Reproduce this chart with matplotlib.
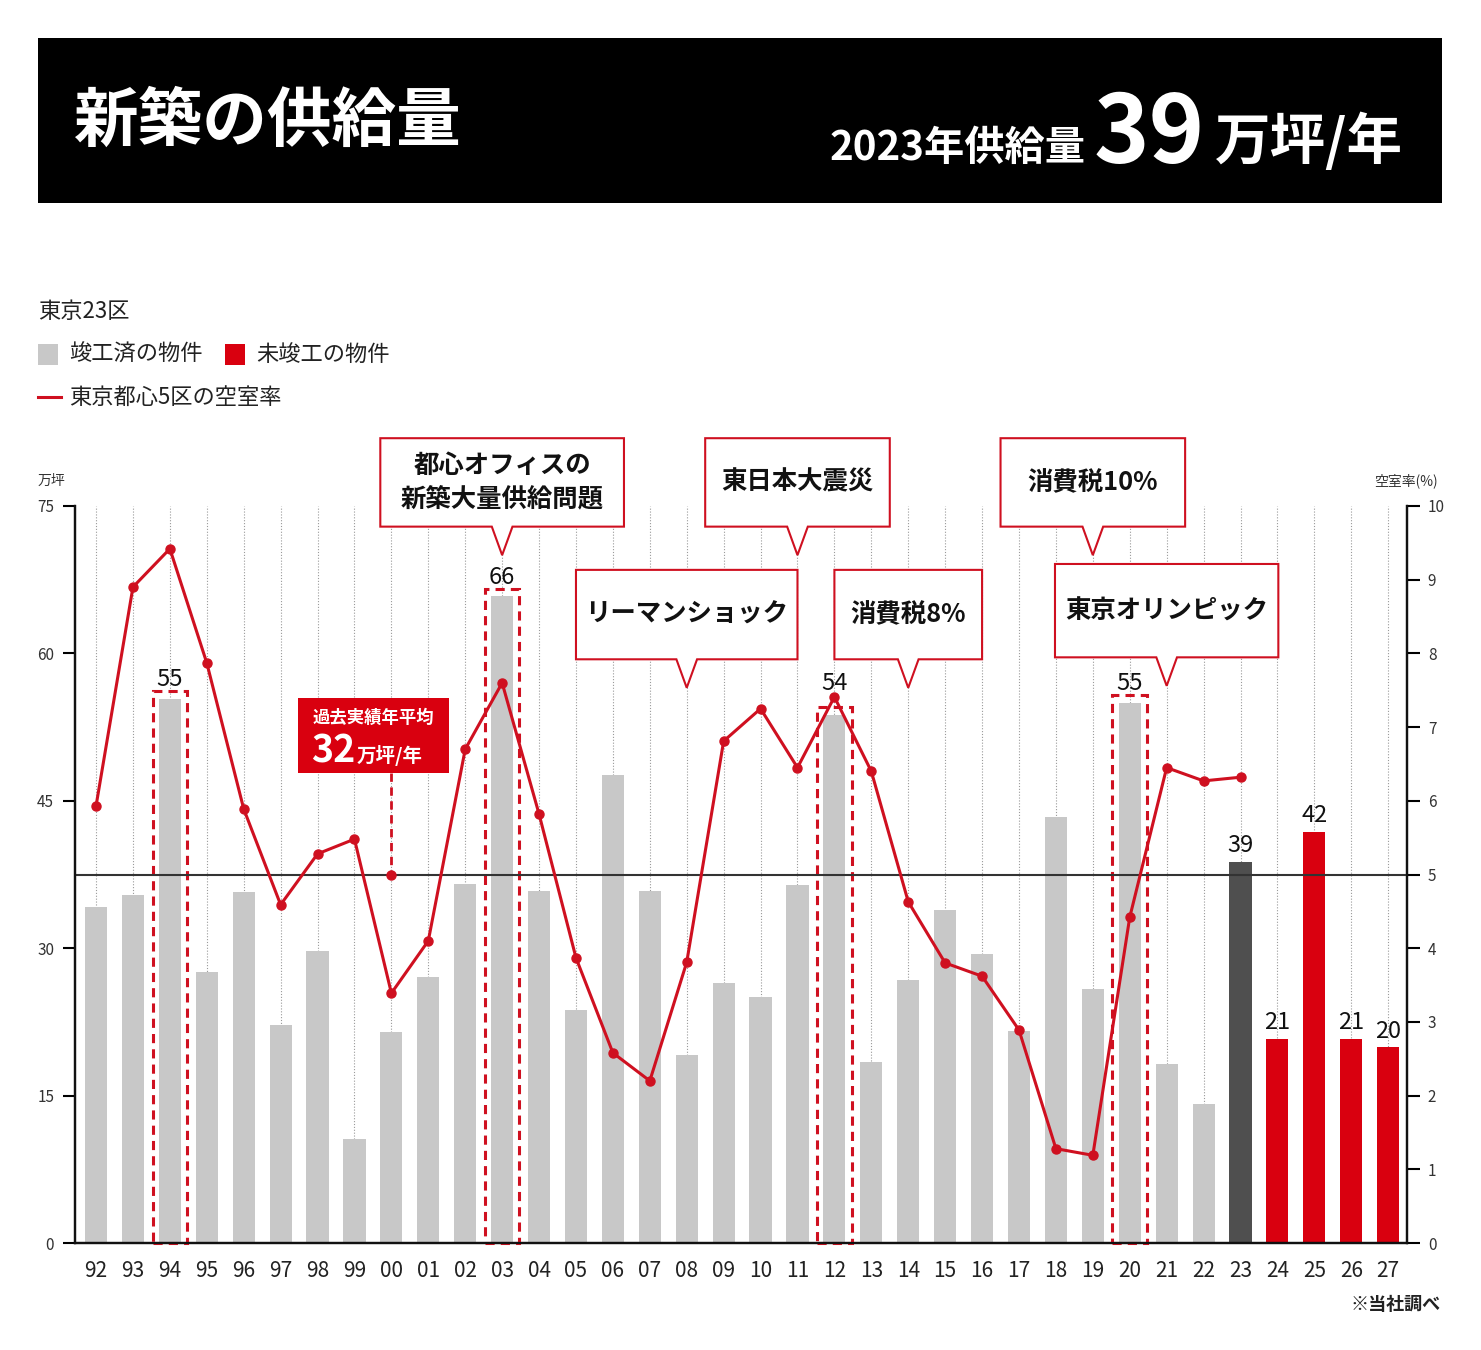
import numpy as np
import matplotlib
matplotlib.use('Agg')
import matplotlib.pyplot as plt
from matplotlib.patches import Rectangle, Polygon
from matplotlib.lines import Line2D

plt.rcParams['font.family'] = ['Noto Sans CJK JP', 'DejaVu Sans']

# ---------------- data ----------------
years = ['92', '93', '94', '95', '96', '97', '98', '99', '00', '01', '02', '03',
         '04', '05', '06', '07', '08', '09', '10', '11', '12', '13', '14', '15',
         '16', '17', '18', '19', '20', '21', '22', '23', '24', '25', '26', '27']
supply = [34.2, 35.4, 55.4, 27.6, 35.7, 22.2, 29.7, 10.6, 21.5, 27.1, 36.5, 65.8,
          35.8, 23.7, 47.6, 35.8, 19.1, 26.5, 25.0, 36.4, 53.7, 18.4, 26.8, 33.9,
          29.4, 21.6, 43.4, 25.8, 55.0, 18.2, 14.1, 38.8, 20.8, 41.8, 20.8, 19.9]
vacancy_years = years[:32]
vacancy = [5.93, 8.90, 9.42, 7.87, 5.89, 4.59, 5.28, 5.48, 3.39, 4.10, 6.70, 7.60,
           5.82, 3.87, 2.58, 2.20, 3.81, 6.81, 7.25, 6.45, 7.41, 6.40, 4.63, 3.80,
           3.62, 2.89, 1.28, 1.19, 4.42, 6.45, 6.27, 6.32]
current_year = '23'
future_years = ['24', '25', '26', '27']
highlight_years = ['94', '03', '12', '20']
labeled_years = ['94', '03', '12', '20', '23', '24', '25', '26', '27']
reference_vacancy = 5
average_text = ['過去実績年平均', '32', '万坪/年']
callouts = [
    ('03', '都心オフィスの\n新築大量供給問題', 'upper'),
    ('11', '東日本大震災', 'upper'),
    ('19', '消費税10%', 'upper'),
    ('08', 'リーマンショック', 'lower'),
    ('14', '消費税8%', 'lower'),
    ('21', '東京オリンピック', 'lower'),
]
callout_widths = {'03': 6.6, '11': 5.0, '19': 5.0, '08': 6.0, '14': 4.0, '21': 6.05}
left_ticks = [0, 15, 30, 45, 60, 75]
right_ticks = list(range(0, 11))

GREY = '#c8c8c8'
DARK = '#4f4f4f'
RED = '#d9000f'
LINE_RED = '#cf1020'

W, H = 1481, 1350
fig = plt.figure(figsize=(W / 100, H / 100), dpi=100)
fx = lambda px: px / W
fy = lambda py: 1 - py / H

# ---------------- header ----------------
fig.add_artist(Rectangle((fx(38), fy(203)), fx(1442) - fx(38), fy(38) - fy(203),
                         transform=fig.transFigure, facecolor='black', edgecolor='none'))
fig.text(fx(74), fy(122), '新築の供給量', color='white', fontsize=46.5, fontweight='bold',
         ha='left', va='center')
fig.text(fx(830), fy(160), '2023年供給量', color='white', fontsize=29, fontweight='bold',
         ha='left', va='baseline')
fig.text(fx(1149), fy(163), '39', color='white', fontsize=68, fontweight='bold',
         ha='center', va='baseline')
fig.text(fx(1403), fy(159), '万坪/年', color='white', fontsize=40, fontweight='bold',
         ha='right', va='baseline')

# ---------------- legend ----------------
fig.text(fx(38), fy(311), '東京23区', fontsize=16, ha='left', va='center', color='#222')
fig.add_artist(Rectangle((fx(38), fy(365)), fx(20), fy(0) - fy(21), transform=fig.transFigure,
                         facecolor=GREY, edgecolor='none'))
fig.text(fx(69), fy(354), '竣工済の物件', fontsize=16, ha='left', va='center', color='#222')
fig.add_artist(Rectangle((fx(225), fy(365)), fx(20), fy(0) - fy(21), transform=fig.transFigure,
                         facecolor=RED, edgecolor='none'))
fig.text(fx(256), fy(354), '未竣工の物件', fontsize=16, ha='left', va='center', color='#222')
fig.add_artist(Line2D([fx(38), fx(61)], [fy(397), fy(397)], transform=fig.transFigure,
                      color=LINE_RED, lw=2.2))
fig.text(fx(69), fy(397), '東京都心5区の空室率', fontsize=16, ha='left', va='center', color='#222')

# ---------------- main axes ----------------
ax = fig.add_axes([fx(75), fy(1243), fx(1407) - fx(75), fy(506) - fy(1243)])
x = np.arange(len(years))
colors = []
for yr in years:
    if yr == current_year:
        colors.append(DARK)
    elif yr in future_years:
        colors.append(RED)
    else:
        colors.append(GREY)

ax.vlines(x, 0, 75, colors='#9a9a9a', linestyles=(0, (1, 1.6)), lw=0.8, zorder=1)
ax.bar(x, supply, width=0.6, color=colors, zorder=2)

ax.set_xlim(-0.57, len(years) - 0.49)
ax.set_ylim(0, 75)
ax.set_yticks(left_ticks)
ax.set_xticks(x)
ax.set_xticklabels(years)
ax.tick_params(axis='x', length=0, pad=12, labelsize=15, labelcolor='#222')
ax.tick_params(axis='y', direction='out', length=9, width=1.5, pad=6, labelsize=11,
               labelcolor='#333')
for s in ['left', 'bottom', 'right']:
    ax.spines[s].set_linewidth(1.6)
    ax.spines[s].set_color('#111')
ax.spines['top'].set_visible(False)
ax.set_facecolor('none')

idx = {yr: i for i, yr in enumerate(years)}
vac_of = dict(zip(vacancy_years, vacancy))

# highlight dashed rectangles
for yr in highlight_years:
    i = idx[yr]
    ax.add_patch(Rectangle((i - 0.47, 0), 0.94, supply[i] + 0.8, fill=False,
                           edgecolor=LINE_RED, linestyle=(0, (3, 2)), lw=2.2, zorder=3,
                           clip_on=False))

# value labels (lifted above the vacancy marker when it sits right above the bar)
for yr in labeled_years:
    i = idx[yr]
    base = supply[i] + (0.8 if yr in highlight_years else 0.5)
    if yr in vac_of:
        m = vac_of[yr] * 7.5
        if base - 0.5 < m < base + 4:
            base = m + 0.2
    ax.text(i, base, f'{round(supply[i])}', ha='center', va='bottom',
            fontsize=17, color='#111', zorder=5)

# twin axis for vacancy
ax2 = ax.twinx()
ax2.set_ylim(0, 10)
ax2.set_yticks(right_ticks)
ax2.tick_params(axis='y', direction='out', length=9, width=1.5, pad=6, labelsize=11,
                labelcolor='#333')
for s in ['left', 'bottom', 'right']:
    ax2.spines[s].set_linewidth(1.6)
    ax2.spines[s].set_color('#111')
ax2.spines['top'].set_visible(False)

ax2.axhline(reference_vacancy, color='#333', lw=1.5, zorder=2)
vx = [idx[yr] for yr in vacancy_years]
ax2.plot(vx, vacancy, color=LINE_RED, lw=2.2, marker='o', ms=6.5, zorder=4)

# axis titles
fig.text(fx(38), fy(481), '万坪', fontsize=10, ha='left', va='center', color='#333')
fig.text(fx(1438), fy(481), '空室率(%)', fontsize=10, ha='right', va='center', color='#333')
fig.text(fx(1441), fy(1304), '※当社調べ', fontsize=13, ha='right', va='center',
         color='#222', fontweight='bold')

# average box (left-axis units, drawn on ax2 with ax transform)
T = ax.transData
avg_i = idx['00']
ax2.add_patch(Rectangle((5.47, 47.8), 4.09, 7.7, transform=T, facecolor=RED,
                        edgecolor='none', zorder=6, clip_on=False))
ax2.text(7.5, 53.4, average_text[0], transform=T, color='white', fontsize=12.5,
         fontweight='bold', ha='center', va='center', zorder=7)
ax2.text(5.82, 48.9, average_text[1], transform=T, color='white', fontsize=27,
         fontweight='bold', ha='left', va='baseline', zorder=7)
ax2.text(7.05, 48.9, average_text[2], transform=T, color='white', fontsize=14,
         fontweight='bold', ha='left', va='baseline', zorder=7)
ax2.plot([avg_i, avg_i], [47.8, 37.5], transform=T, color=LINE_RED, lw=2,
         linestyle=(0, (3, 2)), zorder=5)
ax2.plot([avg_i], [reference_vacancy], color=LINE_RED, marker='o', ms=6.5, zorder=5)

# callouts
levels = {'upper': (72.9, 81.9, 70.0), 'lower': (59.4, 68.5, 56.5)}
for yr, txt, lvl in callouts:
    c = idx[yr]
    w = callout_widths[yr]
    y0, y1, tip = levels[lvl]
    if yr == '21':
        y0, y1, tip = 59.6, 69.1, 56.7
    hw = 0.28
    verts = [(c - w / 2, y0), (c - w / 2, y1), (c + w / 2, y1), (c + w / 2, y0),
             (c + hw, y0), (c, tip), (c - hw, y0)]
    ax2.add_patch(Polygon(verts, closed=True, transform=T, facecolor='white',
                          edgecolor=LINE_RED, lw=1.5, zorder=6, clip_on=False))
    ax2.text(c, (y0 + y1) / 2, txt, transform=T, ha='center', va='center', fontsize=18.3,
             fontweight='bold', color='#111', linespacing=1.3, zorder=7)

fig.savefig('out.png', dpi=100)
